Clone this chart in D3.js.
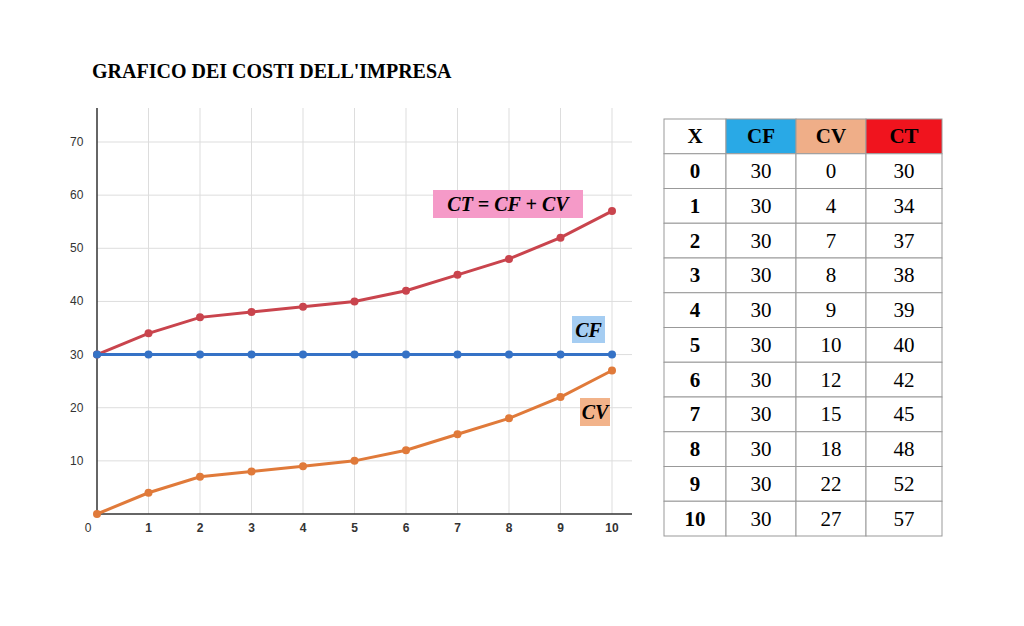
<!DOCTYPE html><html><head><meta charset="utf-8">
<script src="https://cdn.jsdelivr.net/npm/d3@7"></script>
<style>body{margin:0;background:#fff}</style></head><body>
<svg id="c" width="1024" height="626"></svg>
<script>
const xs=[0,1,2,3,4,5,6,7,8,9,10];
const cf=[30,30,30,30,30,30,30,30,30,30,30];
const cv=[0,4,7,8,9,10,12,15,18,22,27];
const ct=[30,34,37,38,39,40,42,45,48,52,57];
const yTicks=[10,20,30,40,50,60,70];
const headers=["X","CF","CV","CT"];
const svg=d3.select("#c");
svg.append("text").attr("x",92).attr("y",78).text("GRAFICO DEI COSTI DELL'IMPRESA")
 .attr("font-family","Liberation Serif").attr("font-weight","bold").attr("font-size",20);
const x=d3.scaleLinear().domain([0,10]).range([97,612]);
const y=d3.scaleLinear().domain([0,70]).range([514,142]);
const plotTop=108;
const g=svg.append("g");
xs.forEach(v=>{ if(v>0) g.append("line").attr("x1",x(v)).attr("x2",x(v)).attr("y1",plotTop).attr("y2",514).attr("stroke","#ddd"); });
yTicks.forEach(v=>g.append("line").attr("x1",97).attr("x2",632).attr("y1",y(v)).attr("y2",y(v)).attr("stroke","#ddd"));
g.append("line").attr("x1",97).attr("x2",97).attr("y1",plotTop).attr("y2",514).attr("stroke","#333").attr("stroke-width",1.5);
g.append("line").attr("x1",97).attr("x2",632).attr("y1",514).attr("y2",514).attr("stroke","#333").attr("stroke-width",1.5);
const fontA="Liberation Sans";
yTicks.forEach(v=>g.append("text").attr("x",70).attr("y",y(v)+4).text(v).attr("font-family",fontA).attr("font-size",12).attr("fill","#333"));
xs.forEach(v=>g.append("text").attr("x",v==0?88:x(v)).attr("y",532).attr("text-anchor","middle").text(v).attr("font-family",fontA).attr("font-size",12).attr("font-weight",v==0?"normal":"bold").attr("fill","#333"));
const line=d3.line().x((d,i)=>x(xs[i])).y(d=>y(d));
[[ct,"#c9444d"],[cf,"#3572c6"],[cv,"#e07a3a"]].forEach(([s,c])=>{
 g.append("path").attr("d",line(s)).attr("fill","none").attr("stroke",c).attr("stroke-width",3);
 s.forEach((d,i)=>g.append("circle").attr("cx",x(xs[i])).attr("cy",y(d)).attr("r",4).attr("fill",c));
});
function lab(t,x0,y0,w,h,bg){g.append("rect").attr("x",x0).attr("y",y0).attr("width",w).attr("height",h).attr("fill",bg);
 g.append("text").attr("x",x0+w/2).attr("y",y0+h/2+7).attr("text-anchor","middle").text(t).attr("font-family","Liberation Serif").attr("font-style","italic").attr("font-weight","bold").attr("font-size",20);}
lab("CT = CF + CV",433,190,150,28,"#f59ac8");
lab("CF",572,316,33,27,"#a5cdf2");
lab("CV",580,398,30,28,"#f2b38a");
const cols=[664,726,796,866,942];
const rowH=(536-119)/12, t0=119;
const hdrBg=["#fff","#29a9e6","#efae88","#f0141e"];
const tb=svg.append("g").attr("font-family","Liberation Serif");
headers.forEach((h,j)=>{
 tb.append("rect").attr("x",cols[j]).attr("y",t0).attr("width",cols[j+1]-cols[j]).attr("height",rowH).attr("fill",hdrBg[j]).attr("stroke","#999");
 tb.append("text").attr("x",(cols[j]+cols[j+1])/2).attr("y",t0+rowH/2+7).attr("text-anchor","middle").text(h).attr("font-weight","bold").attr("font-size",21);
});
xs.forEach((v,i)=>{
 const vals=[v,cf[i],cv[i],ct[i]];
 vals.forEach((d,j)=>{
  const yy=t0+rowH*(i+1);
  tb.append("rect").attr("x",cols[j]).attr("y",yy).attr("width",cols[j+1]-cols[j]).attr("height",rowH).attr("fill","#fff").attr("stroke","#999");
  tb.append("text").attr("x",(cols[j]+cols[j+1])/2).attr("y",yy+rowH/2+7).attr("text-anchor","middle").text(d).attr("font-weight",j==0?"bold":"normal").attr("font-size",21);
 });
});
</script></body></html>
